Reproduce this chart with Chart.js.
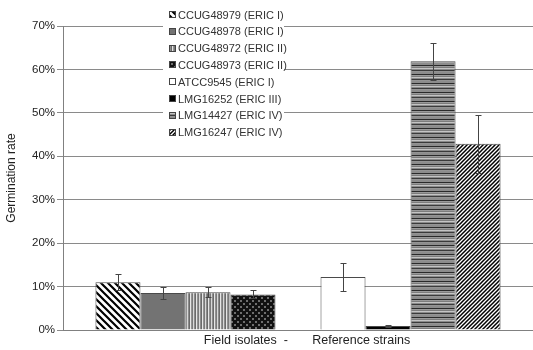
<!DOCTYPE html>
<html>
<head>
<meta charset="utf-8">
<script src="https://cdn.jsdelivr.net/npm/chart.js@4.4.0/dist/chart.umd.min.js"></script>
<style>
body { margin: 0; background: #fff; }
</style>
</head>
<body>
<canvas id="mycanvas" width="533" height="350"></canvas>
<script>
// values (percent)
var groupLabel = ['Field isolates  -       Reference strains'];
var strains = ['CCUG48979 (ERIC I)', 'CCUG48978 (ERIC I)', 'CCUG48972 (ERIC II)', 'CCUG48973 (ERIC II)',
               'ATCC9545 (ERIC I)', 'LMG16252 (ERIC III)', 'LMG14427 (ERIC IV)', 'LMG16247 (ERIC IV)'];
var rates = [11.0, 8.5, 8.7, 8.2, 12.2, 0.9, 61.9, 42.9];
var errors = [1.8, 1.4, 1.1, 0.9, 3.3, 0.3, 4.3, 6.7];
var yTicks = [0, 10, 20, 30, 40, 50, 60, 70];

var FONT = '"Liberation Sans", Arial, sans-serif';

function makePattern(kind) {
    var c = document.createElement('canvas');
    var g = c.getContext('2d');
    var s;
    if (kind == 'diag1') {          // wide \\\ stripes
        s = 7; c.width = s; c.height = s;
        g.fillStyle = '#fff'; g.fillRect(0, 0, s, s);
        g.strokeStyle = '#000'; g.lineWidth = 2.2;
        g.beginPath();
        g.moveTo(-1, -1); g.lineTo(s + 1, s + 1);
        g.moveTo(-1, s - 1); g.lineTo(1, s + 1);
        g.moveTo(s - 1, -1); g.lineTo(s + 1, 1);
        g.stroke();
    } else if (kind == 'diag2') {   // dense /// stripes
        s = 4; c.width = s; c.height = s;
        g.fillStyle = '#fff'; g.fillRect(0, 0, s, s);
        g.strokeStyle = '#000'; g.lineWidth = 1.5;
        g.beginPath();
        g.moveTo(-1, s + 1); g.lineTo(s + 1, -1);
        g.moveTo(-1, 1); g.lineTo(1, -1);
        g.moveTo(s - 1, s + 1); g.lineTo(s + 1, s - 1);
        g.stroke();
    } else if (kind == 'vert') {
        var cols = ['#7a7a7a', '#d8d8d8', '#8c8c8c', '#6a6a6a', '#e6e6e6', '#939393'];
        c.width = cols.length; c.height = 2;
        for (var i = 0; i < cols.length; i++) { g.fillStyle = cols[i]; g.fillRect(i, 0, 1, 2); }
    } else if (kind == 'horiz') {
        var rows = ['#8c8c8c', '#8c8c8c', '#2a2a2a', '#9a9a9a', '#7c7c7c', '#c4c4c4', '#8a8a8a', '#3a3a3a', '#949494'];
        c.width = 2; c.height = rows.length;
        for (var j = 0; j < rows.length; j++) { g.fillStyle = rows[j]; g.fillRect(0, j, 2, 1); }
    } else if (kind == 'dots') {
        s = 6; c.width = s; c.height = s;
        g.fillStyle = '#111'; g.fillRect(0, 0, s, s);
        g.fillStyle = '#6e6e6e';
        g.fillRect(0, 0, 2, 2); g.fillRect(3, 3, 2, 2);
    }
    return g.createPattern(c, 'repeat');
}

var fills = [makePattern('diag1'), '#737373', makePattern('vert'), makePattern('dots'),
             '#ffffff', '#000000', makePattern('horiz'), makePattern('diag2')];

// 4 field isolates, an empty slot, then 4 reference strains
var datasets = [];
for (var i = 0; i < strains.length; i++) {
    if (i == 4) {
        datasets.push({ label: '', data: [null], isGap: true });
    }
    datasets.push({
        label: strains[i],
        data: [rates[i]],
        err: errors[i],
        backgroundColor: fills[i],
        borderColor: '#4a4a4a',
        borderWidth: 1
    });
}

var errorBars = {
    id: 'errorBars',
    afterDatasetsDraw: function (chart) {
        var ctx = chart.ctx;
        var y = chart.scales.y;
        ctx.save();
        ctx.strokeStyle = '#444';
        ctx.lineWidth = 1;
        chart.data.datasets.forEach(function (ds, k) {
            if (ds.isGap) return;
            var bar = chart.getDatasetMeta(k).data[0];
            var v = ds.data[0];
            var t = Math.round(y.getPixelForValue(v + ds.err)) + 0.5;
            var b = Math.round(y.getPixelForValue(Math.max(0, v - ds.err))) + 0.5;
            var x = Math.round(bar.x) + 0.5;
            ctx.beginPath();
            ctx.moveTo(x, t); ctx.lineTo(x, b);
            ctx.moveTo(x - 3, t); ctx.lineTo(x + 3, t);
            ctx.moveTo(x - 3, b); ctx.lineTo(x + 3, b);
            ctx.stroke();
        });
        ctx.restore();
    }
};

var legendBox = {
    id: 'legendBox',
    afterDraw: function (chart) {
        var ctx = chart.ctx;
        ctx.save();
        ctx.fillStyle = '#fff';
        ctx.fillRect(163, 0, 121, 147);
        ctx.font = '11px ' + FONT;
        ctx.textBaseline = 'middle';
        for (var i = 0; i < strains.length; i++) {
            var yy = 15 + i * 16.8;
            ctx.fillStyle = fills[i];
            ctx.fillRect(169, Math.round(yy) - 4, 7, 7);
            ctx.strokeStyle = '#444';
            ctx.strokeRect(169.5, Math.round(yy) - 3.5, 6, 6);
            ctx.fillStyle = '#333';
            ctx.fillText(strains[i], 178, yy + 0.5);
        }
        ctx.restore();
    }
};

var ctx = document.getElementById('mycanvas');
var barGraph = new Chart(ctx, {
    type: 'bar',
    data: {
        labels: groupLabel,
        datasets: datasets
    },
    options: {
        responsive: false,
        animation: false,
        layout: { padding: { top: 26, right: 0, left: 0, bottom: 0 } },
        datasets: {
            bar: { categoryPercentage: 0.862, barPercentage: 1.0 }
        },
        plugins: {
            legend: { display: false },
            tooltip: { enabled: false }
        },
        scales: {
            x: {
                grid: { display: false, drawTicks: false },
                border: { display: true, color: '#808080' },
                ticks: { padding: 3, labelOffset: 9, color: '#222', font: { family: FONT, size: 12.5 } },
                afterFit: function (s) { s.height = 20; }
            },
            y: {
                min: 0,
                max: 70,
                afterBuildTicks: function (s) {
                    s.ticks = yTicks.map(function (v) { return { value: v }; });
                },
                ticks: {
                    padding: 2,
                    color: '#222',
                    font: { family: FONT, size: 11.5 },
                    callback: function (v) { return v + '%'; }
                },
                grid: { color: '#8a8a8a', tickLength: 6 },
                border: { color: '#808080' },
                title: {
                    display: true,
                    text: 'Germination rate',
                    color: '#222',
                    font: { family: FONT, size: 12 },
                    padding: { top: 4, bottom: 4 }
                },
                afterFit: function (s) { s.width = 63; }
            }
        }
    },
    plugins: [errorBars, legendBox]
});
</script>
</body>
</html>
